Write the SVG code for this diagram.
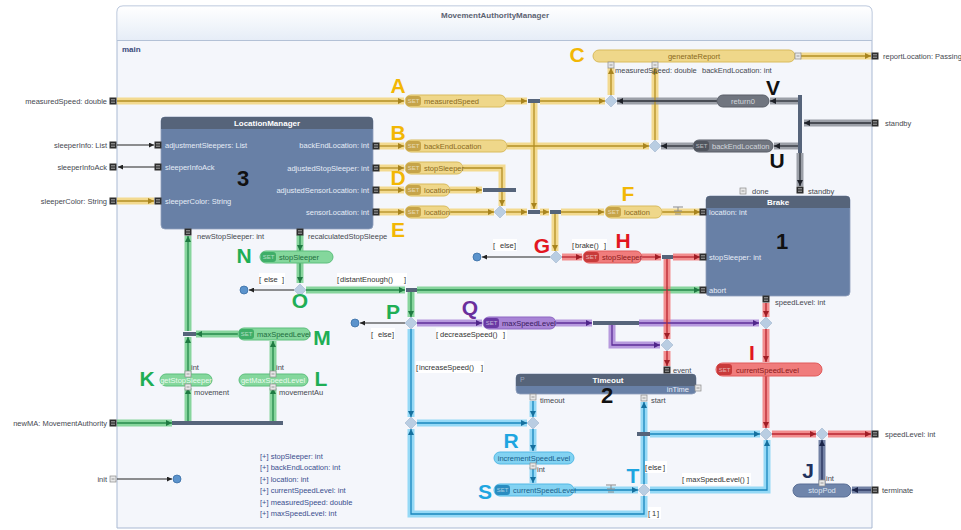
<svg xmlns="http://www.w3.org/2000/svg" xmlns:xlink="http://www.w3.org/1999/xlink" width="961" height="530" viewBox="0 0 961 530">
<style>
.t{font-family:"Liberation Sans",Arial,sans-serif;font-size:7.5px;fill:#454850}
.te{text-anchor:end}
.hd{font-family:"Liberation Sans",Arial,sans-serif;font-size:8px;font-weight:bold;fill:#fff;text-anchor:middle}
.wl{font-family:"Liberation Sans",Arial,sans-serif;font-size:7.5px;fill:#e6ecf6}
.big{font-family:"Liberation Sans",Arial,sans-serif;font-size:22px;font-weight:bold;fill:#111;text-anchor:middle}
.L{font-family:"Liberation Sans",Arial,sans-serif;font-size:21px;font-weight:bold;text-anchor:middle}
.cy{fill:#f2b705}.cg{fill:#1fae55}.cr{fill:#e2161f}.cp{fill:#6a2f9c}.cb{fill:#1ea5e0}.cn{fill:#22325e}.ck{fill:#111}
.st{font-family:"Liberation Sans",Arial,sans-serif;font-size:6px;fill:#fff;fill-opacity:.6;text-anchor:middle}
.nt{font-family:"Liberation Sans",Arial,sans-serif;font-size:7.5px}
.ny{fill:#efd78a;stroke:#d9bb5c}.sy{fill:#c6a449}.ty{fill:#8a6a1c}
.ng{fill:#84d79c;stroke:#5cbf7c}.sg{fill:#3fae68}.tg{fill:#1f6e40}
.nr{fill:#f07c7c;stroke:#e05a5a}.sr{fill:#c83a3a}.tr{fill:#8c1a1a}
.np{fill:#a884d6;stroke:#8d66c2}.sp{fill:#6a3aa4}.tp{fill:#3a1a60}
.nb{fill:#82d2f2;stroke:#52b8e4}.sb{fill:#2a8cc0}.tb{fill:#1a5e8a}
.nk{fill:#70757f;stroke:#5a5f69}.sk{fill:#50555e}.tk{fill:#d2d6dc}
.nn{fill:#6f85ab;stroke:#5a6f96}.tn{fill:#dfe6f2}
.band{fill:none;stroke-width:7;stroke-opacity:.85}
.core{fill:none;stroke-width:1.3}
.band.y{stroke:#f2d57c}.core.y{stroke:#b38f24;marker-end:url(#ay)}
.band.g{stroke:#73cf8c}.core.g{stroke:#268a4c;marker-end:url(#ag)}
.band.r{stroke:#f17a7a}.core.r{stroke:#b82630;marker-end:url(#ar)}
.band.p{stroke:#ab89d8}.core.p{stroke:#5e2e98;marker-end:url(#ap)}
.band.b{stroke:#84d4f4}.core.b{stroke:#1a86bd;marker-end:url(#ab)}
.band.k{stroke:#8c9099}.core.k{stroke:#2c3038;marker-end:url(#ak)}
.band.n{stroke:#5b6c94}.core.n{stroke:#24305a;marker-end:url(#an)}
.thin{fill:none;stroke:#222;stroke-width:1;marker-end:url(#at)}
.bar{fill:#56647a}
.dia{fill:#b9cde2;stroke:#9fb6cf;stroke-width:.6}
.end{fill:#5b93cc;stroke:#3a6fa6;stroke-width:.8}
.box{fill:#6880a6;stroke:#8fa0bd;stroke-width:.8}
.bh{fill:#56647a}
.gd rect{fill:#fff}
.gd text{font-family:"Liberation Sans",Arial,sans-serif;font-size:7.5px;fill:#333}
.var{font-family:"Liberation Sans",Arial,sans-serif;font-size:7.5px;fill:#3a4e8e}
</style>
<defs>
<linearGradient id="hdr" x1="0" y1="0" x2="0" y2="1"><stop offset="0" stop-color="#ffffff"/><stop offset="1" stop-color="#e6edf7"/></linearGradient>
<marker id="ay" viewBox="0 0 6 6" refX="6" refY="3" markerWidth="6" markerHeight="6" markerUnits="userSpaceOnUse" orient="auto"><path d="M0,0L6,3L0,6z" fill="#a8841e"/></marker>
<marker id="ag" viewBox="0 0 6 6" refX="6" refY="3" markerWidth="6" markerHeight="6" markerUnits="userSpaceOnUse" orient="auto"><path d="M0,0L6,3L0,6z" fill="#1f7a42"/></marker>
<marker id="ar" viewBox="0 0 6 6" refX="6" refY="3" markerWidth="6" markerHeight="6" markerUnits="userSpaceOnUse" orient="auto"><path d="M0,0L6,3L0,6z" fill="#a01e26"/></marker>
<marker id="ap" viewBox="0 0 6 6" refX="6" refY="3" markerWidth="6" markerHeight="6" markerUnits="userSpaceOnUse" orient="auto"><path d="M0,0L6,3L0,6z" fill="#50268a"/></marker>
<marker id="ab" viewBox="0 0 6 6" refX="6" refY="3" markerWidth="6" markerHeight="6" markerUnits="userSpaceOnUse" orient="auto"><path d="M0,0L6,3L0,6z" fill="#15709f"/></marker>
<marker id="ak" viewBox="0 0 6 6" refX="6" refY="3" markerWidth="6" markerHeight="6" markerUnits="userSpaceOnUse" orient="auto"><path d="M0,0L6,3L0,6z" fill="#1e2128"/></marker>
<marker id="an" viewBox="0 0 6 6" refX="6" refY="3" markerWidth="6" markerHeight="6" markerUnits="userSpaceOnUse" orient="auto"><path d="M0,0L6,3L0,6z" fill="#1a2448"/></marker>
<marker id="at" viewBox="0 0 6 6" refX="6" refY="3" markerWidth="5" markerHeight="5" markerUnits="userSpaceOnUse" orient="auto"><path d="M0,0L6,3L0,6z" fill="#222"/></marker>
<symbol id="pt" overflow="visible"><rect x="-3.5" y="-3.5" width="7" height="7" fill="#2e2e2e"/><path d="M-2,-1.2h4M-2,1.2h4" stroke="#c9c9c9" stroke-width=".8"/></symbol>
<symbol id="pl" overflow="visible"><rect x="-3" y="-3" width="6" height="6" fill="#e8e8e8" stroke="#8a8a8a" stroke-width=".7"/><path d="M-1.5,0h3" stroke="#777" stroke-width=".7"/></symbol>
<symbol id="fl" overflow="visible"><path d="M-5,-5h10M0,-5v4M-4,-1h8M-3,2h6" fill="none" stroke="#8b8b8b" stroke-width="1"/></symbol>
<!-- connector geometry -->
<path id="y1" d="M117,101H404"/>
<path id="y2" d="M506,101H527"/>
<path id="y3" d="M540,101H605"/>
<path id="y4" d="M534,103V209"/>
<path id="y5" d="M379,146H404"/>
<path id="y6" d="M507,146H649"/>
<path id="y7" d="M379,168H404"/>
<path id="y8" d="M463,168H502V206"/>
<path id="y9" d="M379,190H404"/>
<path id="y10" d="M450,190H482"/>
<path id="y11" d="M379,212H404"/>
<path id="y12" d="M450,212H494"/>
<path id="y13" d="M506,212H527"/>
<path id="y14" d="M540,212H549"/>
<path id="y15" d="M561,212H604"/>
<path id="y16" d="M662,212H700"/>
<path id="y17" d="M555,214V251"/>
<path id="y18" d="M611,95V68"/>
<path id="y19" d="M655,140V68"/>
<path id="y20" d="M800,56H871"/>
<path id="y21" d="M117,201H154"/>
<path id="g1" d="M188,374V337"/>
<path id="g2" d="M188,331V236"/>
<path id="g3" d="M238,334H196"/>
<path id="g4" d="M273,374V341"/>
<path id="g5" d="M117,423H172"/>
<path id="g6" d="M188,421V388"/>
<path id="g7" d="M273,421V388"/>
<path id="g8" d="M300,235V251"/>
<path id="g9" d="M300,263V283"/>
<path id="g10" d="M306,290H405"/>
<path id="g11" d="M417,290H700"/>
<path id="g12" d="M411,292V317"/>
<path id="p1" d="M417,323H482"/>
<path id="p2" d="M556,323H592"/>
<path id="p3" d="M639,323H759"/>
<path id="p4" d="M612,325V345H660"/>
<path id="r1" d="M562,257H582"/>
<path id="r2" d="M642,257H661"/>
<path id="r3" d="M673,257H700"/>
<path id="r4" d="M667,259V339"/>
<path id="r5" d="M667,351V366"/>
<path id="r6" d="M766,303V317"/>
<path id="r7" d="M766,329V362"/>
<path id="r8" d="M766,376V428"/>
<path id="r9" d="M772,434H816"/>
<path id="r10" d="M828,434H871"/>
<path id="b1" d="M411,329V417"/>
<path id="b2" d="M417,423H527"/>
<path id="b3" d="M533,401V417"/>
<path id="b4" d="M533,429V451"/>
<path id="b5" d="M533,467V483"/>
<path id="b6" d="M574,490H638"/>
<path id="b7" d="M644,484V402"/>
<path id="b8" d="M650,434H760"/>
<path id="b9" d="M650,490H767V440"/>
<path id="b10" d="M644,496V514H411V429"/>
<path id="k1" d="M871,123H804"/>
<path id="k2" d="M798,101H770"/>
<path id="k3" d="M717,101H617"/>
<path id="k4" d="M798,146H774"/>
<path id="k5" d="M693,146H661"/>
<path id="k6" d="M800,153V186"/>
<path id="n1" d="M871,490H852"/>
<path id="n2" d="M822,484V440"/>
</defs>

<!-- container -->
<g id="container">
<path d="M117,528V12Q117,6 123,6H866Q872,6 872,12V528Z" fill="#f4f6fb" stroke="#a9b9d3"/>
<path d="M117.5,40V12Q117.5,6.5 123,6.5H866Q871.5,6.5 871.5,12V40Z" fill="url(#hdr)"/>
<path d="M117,40.5H872" stroke="#b3c1d6"/>
<text x="495" y="18" font-family="Liberation Sans, Arial, sans-serif" font-size="8" font-weight="bold" fill="#5b6272" text-anchor="middle">MovementAuthorityManager</text>
<text x="122" y="52" font-family="Liberation Sans, Arial, sans-serif" font-size="8" font-weight="bold" fill="#3b4a7a">main</text>
</g>

<!-- boundary ports -->
<g id="ports">
<use href="#pt" x="113" y="101"/><text class="t te" x="107" y="104">measuredSpeed: double</text>
<use href="#pt" x="113" y="145"/><text class="t te" x="107" y="148">sleeperInfo: List</text>
<use href="#pt" x="113" y="167"/><text class="t te" x="107" y="170">sleeperInfoAck</text>
<use href="#pt" x="113" y="201"/><text class="t te" x="107" y="204">sleeperColor: String</text>
<use href="#pt" x="113" y="423"/><text class="t te" x="107" y="426">newMA: MovementAuthority</text>
<use href="#pl" x="113" y="479"/><text class="t te" x="107" y="482">init</text>
<use href="#pt" x="875" y="56"/><text class="t" x="883" y="59">reportLocation: Passing</text>
<use href="#pt" x="875" y="123"/><text class="t" x="885" y="126">standby</text>
<use href="#pt" x="875" y="434"/><text class="t" x="885" y="437">speedLevel: int</text>
<use href="#pt" x="875" y="490"/><text class="t" x="882" y="493">terminate</text>
</g>

<!-- connectors -->
<g id="connectors">
<g class="band y"><use href="#y1"/><use href="#y2"/><use href="#y3"/><use href="#y4"/><use href="#y5"/><use href="#y6"/><use href="#y7"/><use href="#y8"/><use href="#y9"/><use href="#y10"/><use href="#y11"/><use href="#y12"/><use href="#y13"/><use href="#y14"/><use href="#y15"/><use href="#y16"/><use href="#y17"/><use href="#y18"/><use href="#y19"/><use href="#y20"/><use href="#y21"/></g>
<g class="band g"><use href="#g1"/><use href="#g2"/><use href="#g3"/><use href="#g4"/><use href="#g5"/><use href="#g6"/><use href="#g7"/><use href="#g8"/><use href="#g9"/><use href="#g10"/><use href="#g11"/><use href="#g12"/></g>
<g class="band p"><use href="#p1"/><use href="#p2"/><use href="#p3"/><use href="#p4"/></g>
<g class="band r"><use href="#r1"/><use href="#r2"/><use href="#r3"/><use href="#r4"/><use href="#r5"/><use href="#r6"/><use href="#r7"/><use href="#r8"/><use href="#r9"/><use href="#r10"/></g>
<g class="band b"><use href="#b1"/><use href="#b2"/><use href="#b3"/><use href="#b4"/><use href="#b5"/><use href="#b6"/><use href="#b7"/><use href="#b8"/><use href="#b9"/><use href="#b10"/></g>
<g class="band k"><use href="#k1"/><use href="#k2"/><use href="#k3"/><use href="#k4"/><use href="#k5"/><use href="#k6"/></g>
<g class="band n"><use href="#n1"/><use href="#n2"/></g>
<g class="core y"><use href="#y1"/><use href="#y2"/><use href="#y3"/><use href="#y4"/><use href="#y5"/><use href="#y6"/><use href="#y7"/><use href="#y8"/><use href="#y9"/><use href="#y10"/><use href="#y11"/><use href="#y12"/><use href="#y13"/><use href="#y14"/><use href="#y15"/><use href="#y16"/><use href="#y17"/><use href="#y18"/><use href="#y19"/><use href="#y20"/><use href="#y21"/></g>
<g class="core g"><use href="#g1"/><use href="#g2"/><use href="#g3"/><use href="#g4"/><use href="#g5"/><use href="#g6"/><use href="#g7"/><use href="#g8"/><use href="#g9"/><use href="#g10"/><use href="#g11"/><use href="#g12"/></g>
<g class="core p"><use href="#p1"/><use href="#p2"/><use href="#p3"/><use href="#p4"/></g>
<g class="core r"><use href="#r1"/><use href="#r2"/><use href="#r3"/><use href="#r4"/><use href="#r5"/><use href="#r6"/><use href="#r7"/><use href="#r8"/><use href="#r9"/><use href="#r10"/></g>
<g class="core b"><use href="#b1"/><use href="#b2"/><use href="#b3"/><use href="#b4"/><use href="#b5"/><use href="#b6"/><use href="#b7"/><use href="#b8"/><use href="#b9"/><use href="#b10"/></g>
<g class="core k"><use href="#k1"/><use href="#k2"/><use href="#k3"/><use href="#k4"/><use href="#k5"/><use href="#k6"/></g>
<g class="core n"><use href="#n1"/><use href="#n2"/></g>
<!-- plain control-flow arrows -->
<path class="thin" d="M117,145H154"/>
<path class="thin" d="M155,167H118"/>
<path class="thin" d="M117,479H172"/>
<path class="thin" d="M294,290H249"/>
<path class="thin" d="M405,323H360"/>
<path class="thin" d="M550,257H482"/>
<!-- fork / join bars -->
<rect class="bar" x="528" y="99" width="12" height="4"/>
<rect class="bar" x="528" y="210" width="12" height="4"/>
<rect class="bar" x="483" y="188" width="33" height="4"/>
<rect class="bar" x="550" y="210" width="11" height="4"/>
<rect class="bar" x="662" y="255" width="11" height="4"/>
<rect class="bar" x="406" y="288" width="11" height="4"/>
<rect class="bar" x="183" y="332" width="13" height="4"/>
<rect class="bar" x="593" y="321" width="46" height="4"/>
<rect class="bar" x="637" y="432" width="13" height="4"/>
<rect class="bar" x="172" y="421" width="111" height="4"/>
<rect class="bar" x="798" y="95" width="4" height="58"/>
<!-- choice points -->
<path class="dia" d="M611,95l6,6l-6,6l-6,-6z"/>
<path class="dia" d="M655,140l6,6l-6,6l-6,-6z"/>
<path class="dia" d="M500,206l6,6l-6,6l-6,-6z"/>
<path class="dia" d="M556,251l6,6l-6,6l-6,-6z"/>
<path class="dia" d="M300,284l6,6l-6,6l-6,-6z"/>
<path class="dia" d="M411,317l6,6l-6,6l-6,-6z"/>
<path class="dia" d="M667,339l6,6l-6,6l-6,-6z"/>
<path class="dia" d="M766,317l6,6l-6,6l-6,-6z"/>
<path class="dia" d="M411,417l6,6l-6,6l-6,-6z"/>
<path class="dia" d="M533,417l6,6l-6,6l-6,-6z"/>
<path class="dia" d="M766,428l6,6l-6,6l-6,-6z"/>
<path class="dia" d="M822,428l6,6l-6,6l-6,-6z"/>
<path class="dia" d="M644,484l6,6l-6,6l-6,-6z"/>
<circle class="end" cx="244" cy="290" r="4"/>
<circle class="end" cx="355" cy="323" r="4"/>
<circle class="end" cx="477" cy="257" r="4"/>
<circle class="end" cx="177" cy="479" r="4"/>
<use href="#fl" x="678" y="212"/>
<use href="#fl" x="611" y="490"/>
<!-- guards -->
<g class="gd"><rect x="493" y="239" width="24" height="12"/><text x="493" y="248">[<tspan x="500">else</tspan><tspan x="514">]</tspan></text></g>
<g class="gd"><rect x="572" y="239" width="35" height="12"/><text x="572" y="248">[<tspan x="575">brake()</tspan><tspan x="604">]</tspan></text></g>
<g class="gd"><rect x="337" y="273" width="70" height="12"/><text x="337" y="282">[<tspan x="340">distantEnough()</tspan><tspan x="404">]</tspan></text></g>
<g class="gd"><rect x="259" y="273" width="26" height="12"/><text x="259" y="282">[<tspan x="264">else</tspan><tspan x="282">]</tspan></text></g>
<g class="gd"><rect x="371" y="328" width="24" height="12"/><text x="371" y="337">[<tspan x="378">else</tspan><tspan x="392">]</tspan></text></g>
<g class="gd"><rect x="436" y="328" width="71" height="12"/><text x="436" y="337">[<tspan x="440">decreaseSpeed()</tspan><tspan x="503">]</tspan></text></g>
<g class="gd"><rect x="416" y="361" width="68" height="12"/><text x="416" y="370">[<tspan x="419">increaseSpeed()</tspan><tspan x="481">]</tspan></text></g>
<g class="gd"><rect x="645" y="461" width="22" height="12"/><text x="645" y="470">[<tspan x="648">else</tspan><tspan x="663">]</tspan></text></g>
<g class="gd"><rect x="682" y="473" width="69" height="12"/><text x="682" y="482">[<tspan x="686">maxSpeedLevel()</tspan><tspan x="747">]</tspan></text></g>
<g class="gd"><rect x="648" y="507" width="13" height="12"/><text x="648" y="516">[<tspan x="652">1</tspan><tspan x="657">]</tspan></text></g>
</g>

<!-- composite blocks -->
<g id="block-location-manager">
<rect class="box" x="161" y="117" width="212" height="112" rx="4"/>
<path class="bh" d="M161,129V121Q161,117 165,117H369Q373,117 373,121V129Z"/>
<text class="hd" x="267" y="126">LocationManager</text>
<text class="wl" x="165" y="148">adjustmentSleepers: List</text>
<text class="wl" x="165" y="170">sleeperInfoAck</text>
<text class="wl" x="165" y="204">sleeperColor: String</text>
<text class="wl" x="369" y="148" text-anchor="end">backEndLocation: int</text>
<text class="wl" x="369" y="171" text-anchor="end">adjustedStopSleeper: int</text>
<text class="wl" x="369" y="193" text-anchor="end">adjustedSensorLocation: int</text>
<text class="wl" x="369" y="215" text-anchor="end">sensorLocation: int</text>
<use href="#pt" x="158" y="145"/><use href="#pt" x="158" y="167"/><use href="#pt" x="158" y="201"/>
<use href="#pt" x="376" y="146"/><use href="#pt" x="376" y="168"/><use href="#pt" x="376" y="190"/><use href="#pt" x="376" y="212"/>
<use href="#pt" x="188" y="232"/><use href="#pt" x="300" y="232"/>
<text class="t" x="197" y="239">newStopSleeper: int</text>
<text class="t" x="308" y="239">recalculatedStopSleepe</text>
<text class="big" x="243" y="186">3</text>
</g>

<g id="block-brake">
<rect class="box" x="706" y="196" width="144" height="100" rx="4"/>
<path class="bh" d="M706,208V200Q706,196 710,196H846Q850,196 850,200V208Z"/>
<text class="hd" x="778" y="205">Brake</text>
<text class="wl" x="709" y="215">location: int</text>
<text class="wl" x="709" y="260">stopSleeper: int</text>
<text class="wl" x="709" y="293">abort</text>
<use href="#pt" x="703" y="212"/><use href="#pt" x="703" y="257"/><use href="#pt" x="703" y="290"/>
<use href="#pl" x="743" y="191"/><text class="t" x="752" y="194">done</text>
<use href="#pt" x="800" y="190"/><text class="t" x="808" y="194">standby</text>
<use href="#pt" x="766" y="299"/><text class="t" x="775" y="305">speedLevel: int</text>
<text class="big" x="782" y="249">1</text>
</g>

<g id="block-timeout">
<rect class="box" x="516" y="374" width="180" height="20" rx="4"/>
<path class="bh" d="M516,386V378Q516,374 520,374H692Q696,374 696,378V386Z"/>
<text class="hd" x="608" y="383">Timeout</text>
<text x="520" y="382" font-family="Liberation Sans, Arial, sans-serif" font-size="7" fill="#9aa6ba">P</text>
<text class="wl" x="689" y="392" text-anchor="end">inTime</text>
<use href="#pl" x="698" y="388"/>
<use href="#pt" x="667" y="370"/><text class="t" x="673" y="373">event</text>
<use href="#pl" x="533" y="397"/><text class="t" x="540" y="403">timeout</text>
<use href="#pl" x="644" y="398"/><text class="t" x="651" y="403">start</text>
<text class="big" x="607" y="403">2</text>
</g>

<!-- action nodes -->
<g id="node-A">
<rect class="ny" x="405" y="95" width="101" height="12" rx="6"/><rect class="sy" x="406" y="96" width="15" height="10" rx="3"/>
<text class="st" x="413.5" y="103">SET</text><text class="nt ty" x="424" y="104">measuredSpeed</text>
<text class="L cy" x="398" y="93">A</text>
</g>
<g id="node-B">
<rect class="ny" x="405" y="140" width="102" height="12" rx="6"/><rect class="sy" x="406" y="141" width="15" height="10" rx="3"/>
<text class="st" x="413.5" y="148">SET</text><text class="nt ty" x="424" y="149">backEndLocation</text>
<text class="L cy" x="398" y="140">B</text>
</g>
<g id="node-stop-sleeper-set">
<rect class="ny" x="405" y="162" width="58" height="12" rx="6"/><rect class="sy" x="406" y="163" width="15" height="10" rx="3"/>
<text class="st" x="413.5" y="170">SET</text><text class="nt ty" x="424" y="171">stopSleeper</text>
</g>
<g id="node-D">
<rect class="ny" x="405" y="184" width="45" height="12" rx="6"/><rect class="sy" x="406" y="185" width="15" height="10" rx="3"/>
<text class="st" x="413.5" y="192">SET</text><text class="nt ty" x="424" y="193">location</text>
<text class="L cy" x="398" y="185">D</text>
</g>
<g id="node-E">
<rect class="ny" x="405" y="206" width="45" height="12" rx="6"/><rect class="sy" x="406" y="207" width="15" height="10" rx="3"/>
<text class="st" x="413.5" y="214">SET</text><text class="nt ty" x="424" y="215">location</text>
<text class="L cy" x="398" y="237">E</text>
</g>
<g id="node-F">
<rect class="ny" x="605" y="206" width="57" height="12" rx="6"/><rect class="sy" x="606" y="207" width="15" height="10" rx="3"/>
<text class="st" x="613.5" y="214">SET</text><text class="nt ty" x="624" y="215">location</text>
<text class="L cy" x="628" y="201">F</text>
</g>
<g id="node-C">
<rect class="ny" x="593" y="50" width="202" height="12" rx="6"/>
<text class="nt ty" x="694" y="59" text-anchor="middle">generateReport</text>
<use href="#pl" x="798" y="56"/><use href="#pl" x="611" y="65"/><use href="#pl" x="655" y="65"/>
<text class="t" x="615" y="73" font-size="6.3">measuredSpeed: double</text>
<text class="t" x="702" y="73" font-size="6.3">backEndLocation: int</text>
<text class="L cy" x="577" y="62">C</text>
</g>
<g id="node-H">
<rect class="nr" x="583" y="251" width="59" height="12" rx="6"/><rect class="sr" x="584" y="252" width="15" height="10" rx="3"/>
<text class="st" x="591.5" y="259">SET</text><text class="nt tr" x="602" y="260">stopSleeper</text>
<text class="L cr" x="542" y="253">G</text>
<text class="L cr" x="623" y="248">H</text>
</g>
<g id="node-I">
<rect class="nr" x="716" y="363" width="106" height="13" rx="6.5"/><rect class="sr" x="717" y="364" width="15" height="11" rx="3"/>
<text class="st" x="724.5" y="372">SET</text><text class="nt tr" x="736" y="372.5">currentSpeedLevel</text>
<text class="L cr" x="752" y="360">I</text>
</g>
<g id="node-N">
<rect class="ng" x="260" y="251" width="73" height="12" rx="6"/><rect class="sg" x="261" y="252" width="15" height="10" rx="3"/>
<text class="st" x="268.5" y="259">SET</text><text class="nt tg" x="279" y="260">stopSleeper</text>
<text class="L cg" x="244" y="263">N</text>
<text class="L cg" x="300" y="308">O</text>
<text class="L cg" x="393" y="319">P</text>
</g>
<g id="node-M">
<rect class="ng" x="238" y="328" width="72" height="12" rx="6"/><rect class="sg" x="239" y="329" width="15" height="10" rx="3"/>
<text class="st" x="246.5" y="336">SET</text><text class="nt tg" x="257" y="337">maxSpeedLevel</text>
<text class="L cg" x="322" y="345">M</text>
</g>
<g id="node-K">
<rect class="ng" x="160" y="374" width="52" height="12" rx="6"/>
<text class="nt" x="186" y="383" text-anchor="middle" fill="#eafaef" font-size="7">getStopSleeper</text>
<use href="#pl" x="188" y="374"/><use href="#pl" x="188" y="387"/>
<text class="t" x="191" y="370" font-size="7">int</text><text class="t" x="194" y="395" font-size="7">movement</text>
<text class="L cg" x="147" y="386">K</text>
</g>
<g id="node-L">
<rect class="ng" x="239" y="374" width="69" height="12" rx="6"/>
<text class="nt" x="273" y="383" text-anchor="middle" fill="#eafaef" font-size="7">getMaxSpeedLevel</text>
<use href="#pl" x="273" y="374"/><use href="#pl" x="273" y="387"/>
<text class="t" x="276" y="370" font-size="7">int</text><text class="t" x="279" y="395" font-size="7">movementAu</text>
<text class="L cg" x="321" y="386">L</text>
</g>
<g id="node-Q">
<rect class="np" x="483" y="317" width="73" height="12" rx="6"/><rect class="sp" x="484" y="318" width="15" height="10" rx="3"/>
<text class="st" x="491.5" y="325">SET</text><text class="nt tp" x="502" y="326">maxSpeedLevel</text>
<text class="L cp" x="470" y="315">Q</text>
</g>
<g id="node-R">
<rect class="nb" x="494" y="452" width="80" height="12" rx="6"/>
<text class="nt tb" x="534" y="461" text-anchor="middle">incrementSpeedLevel</text>
<use href="#pl" x="533" y="466"/><text class="t" x="537" y="472" font-size="7">int</text>
<text class="L cb" x="511" y="448">R</text>
</g>
<g id="node-S">
<rect class="nb" x="494" y="484" width="80" height="12" rx="6"/><rect class="sb" x="495" y="485" width="15" height="10" rx="3"/>
<text class="st" x="502.5" y="492">SET</text><text class="nt tb" x="513" y="493">currentSpeedLevel</text>
<text class="L cb" x="485" y="499">S</text>
<text class="L cb" x="633" y="483">T</text>
</g>
<g id="node-V">
<rect class="nk" x="717" y="95" width="52" height="12" rx="6"/>
<text class="nt tk" x="743" y="104" text-anchor="middle">return0</text>
<text class="L ck" x="773" y="95">V</text>
</g>
<g id="node-U">
<rect class="nk" x="693" y="140" width="80" height="12" rx="6"/><rect class="sk" x="694" y="141" width="15" height="10" rx="3"/>
<text class="st" x="701.5" y="148">SET</text><text class="nt tk" x="712" y="149">backEndLocation</text>
<text class="L ck" x="777" y="168">U</text>
</g>
<g id="node-J">
<rect class="nn" x="793" y="484" width="58" height="13" rx="6.5"/>
<text class="nt tn" x="822" y="493" text-anchor="middle">stopPod</text>
<use href="#pl" x="822" y="483"/><text class="t" x="826" y="481" font-size="7">int</text>
<text class="L cn" x="808" y="478">J</text>
</g>

<!-- attribute list -->
<g id="variables" class="var">
<text x="260" y="459">[+] stopSleeper: int</text>
<text x="260" y="470">[+] backEndLocation: int</text>
<text x="260" y="482">[+] location: int</text>
<text x="260" y="493">[+] currentSpeedLevel: int</text>
<text x="260" y="505">[+] measuredSpeed: double</text>
<text x="260" y="516">[+] maxSpeedLevel: int</text>
</g>
</svg>
